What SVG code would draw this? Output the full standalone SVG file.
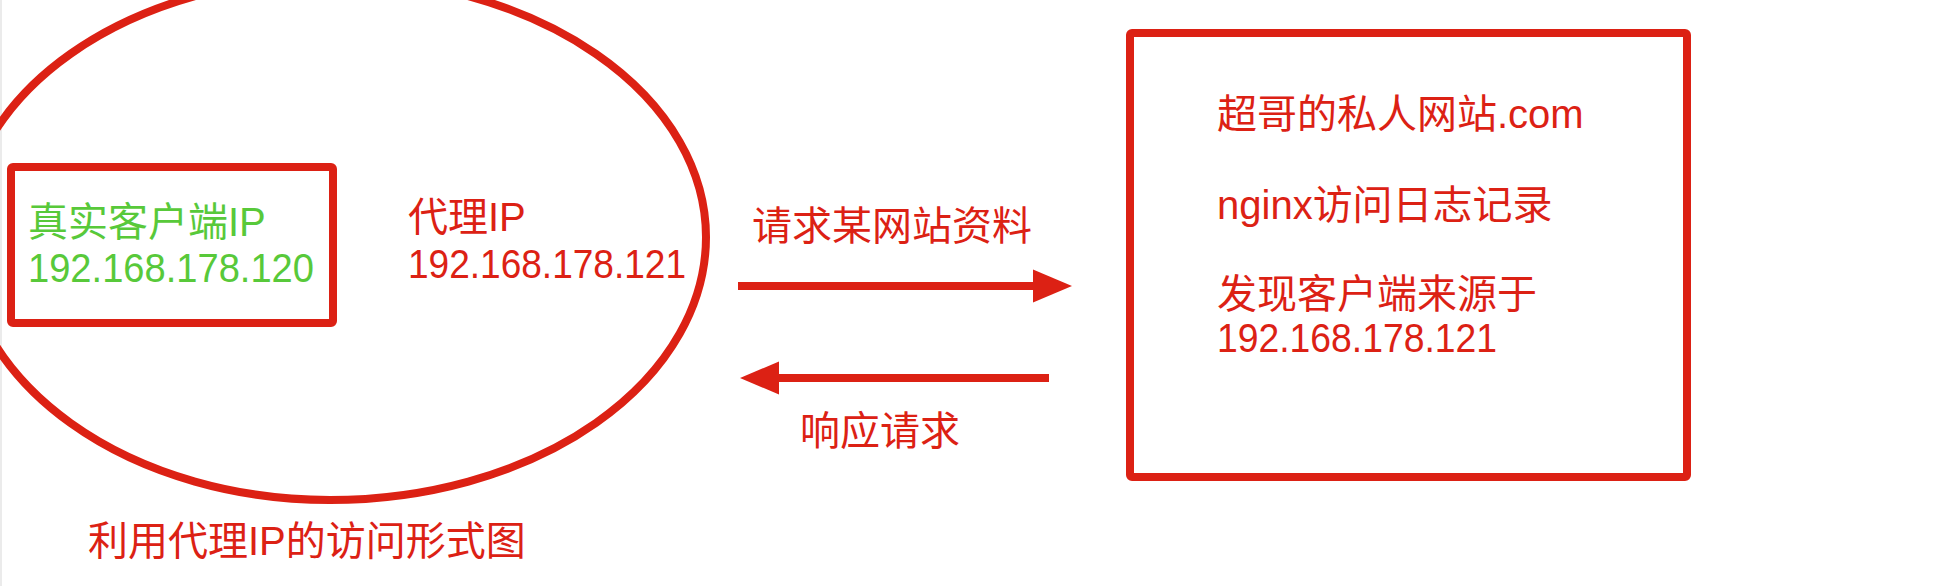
<svg xmlns="http://www.w3.org/2000/svg" width="1960" height="586" viewBox="0 0 1960 586">
  <style>
    .shape { fill: none; stroke: #DC2114; stroke-width: 8; }
    .conn { fill: none; stroke: #DC2114; stroke-width: 8; }
    text { font-family: "Liberation Sans", "Noto Sans CJK SC", sans-serif; font-size: 40px; }
    .red { fill: #DC2114; }
    .green { fill: #58C93A; }
  </style>
  <defs>
    <marker id="head" markerUnits="userSpaceOnUse" markerWidth="40" markerHeight="34" refX="0" refY="16.5" orient="auto" viewBox="0 0 40 33">
      <path d="M0,0 L39,16.5 L0,33 Z" fill="#DC2114"/>
    </marker>
  </defs>
  <rect x="0" y="0" width="1960" height="586" fill="#ffffff"/>
  <line x1="1" y1="0" x2="1" y2="586" stroke="#e4e4e4" stroke-width="1.5"/>

  <g id="proxy">
    <path class="shape" stroke-width="7.5" d="M -37,237 A 367 259 0 0 1 330,-22 A 376 259 0 0 1 706,237 A 376 263 0 0 1 330,500 A 367 263 0 0 1 -37,237 Z"/>
    <text class="red" x="408" y="231">代理IP</text>
    <text class="red" x="408" y="278" font-size="42" textLength="278" lengthAdjust="spacingAndGlyphs">192.168.178.121</text>
  </g>

  <g id="client">
    <rect class="shape" x="11" y="167" width="322" height="156" rx="2"/>
    <text class="green" x="28" y="236">真实客户端IP</text>
    <text class="green" x="28" y="282" font-size="42" textLength="286" lengthAdjust="spacingAndGlyphs">192.168.178.120</text>
  </g>

  <g id="server">
    <rect class="shape" x="1130" y="33" width="557" height="444" rx="2"/>
    <text class="red" x="1217" y="128">超哥的私人网站.com</text>
    <text class="red" x="1217" y="219">nginx访问日志记录</text>
    <text class="red" x="1217" y="308">发现客户端来源于</text>
    <text class="red" x="1217" y="352" font-size="42" textLength="280" lengthAdjust="spacingAndGlyphs">192.168.178.121</text>
  </g>

  <g id="connectors">
    <line class="conn" x1="738" y1="286" x2="1033" y2="286" marker-end="url(#head)"/>
    <text class="red" x="752" y="240">请求某网站资料</text>
    <line class="conn" x1="1049" y1="378" x2="779" y2="378" stroke-width="7" marker-end="url(#head)"/>
    <text class="red" x="800" y="445">响应请求</text>
  </g>

  <g id="caption">
    <text class="red" x="88" y="555">利用代理IP的访问形式图</text>
  </g>
</svg>
